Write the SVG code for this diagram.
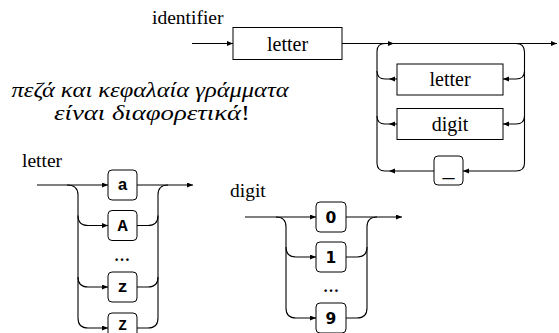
<svg xmlns="http://www.w3.org/2000/svg" width="559" height="333" viewBox="0 0 559 333">
<defs>
<marker id="ah" markerUnits="userSpaceOnUse" markerWidth="7" markerHeight="6" refX="6" refY="2.5" orient="auto">
<path d="M0,0 L6,2.5 L0,5 z" fill="#000"/>
</marker>
<style>
.ln{fill:none;stroke:#000;stroke-width:1.1}
.ar{fill:none;stroke:#000;stroke-width:1.1;marker-end:url(#ah)}
.bx{fill:#fff;stroke:#000;stroke-width:1}
</style>
</defs>

<g id="connectors">
<path class="ar" d="M192,43.5 H233"/>
<path class="ar" d="M342,43.5 H394"/>
<path class="ar" d="M394,43.5 H557"/>
<path class="ln" d="M385,43.5 Q377,43.5 377,51.5 V163 Q377,171 385,171 H389"/>
<path class="ln" d="M377,71 Q377,79 385,79 H389"/>
<path class="ln" d="M377,116 Q377,124 385,124 H389"/>
<path class="ar" d="M397,79 H389"/>
<path class="ar" d="M397,124 H389"/>
<path class="ar" d="M434,171 H389"/>
<path class="ar" d="M516,43.5 Q524.5,43.5 524.5,52 V163 Q524.5,171 516,171 H463"/>
<path class="ar" d="M524.5,71 Q524.5,79 516,79 H503"/>
<path class="ar" d="M524.5,116 Q524.5,124 516,124 H503"/>
<path class="ar" d="M37,185 H108"/>
<path class="ar" d="M67,185 Q78,185 78,195 V318 Q78,328 88,328 H108"/>
<path class="ar" d="M78,215.5 Q78,225.5 88,225.5 H108"/>
<path class="ar" d="M78,277 Q78,287 88,287 H108"/>
<path class="ar" d="M137,185 H193"/>
<path class="ln" d="M137,328 H148 Q158,328 158,318 V195 Q158,185 168,185"/>
<path class="ln" d="M137,225.5 H148 Q158,225.5 158,215.5"/>
<path class="ln" d="M137,287 H148 Q158,287 158,277"/>
<path class="ar" d="M245,217 H316"/>
<path class="ar" d="M276,217 Q286,217 286,227 V308 Q286,318 296,318 H316"/>
<path class="ar" d="M286,247 Q286,257 296,257 H316"/>
<path class="ar" d="M346,217 H402"/>
<path class="ln" d="M346,318 H357 Q367,318 367,308 V227 Q367,217 377,217"/>
<path class="ln" d="M346,257 H357 Q367,257 367,247"/>
</g>

<g id="labels" font-family="Liberation Serif, Times New Roman, serif" fill="#000">
<text x="152" y="24" font-size="19.5">identifier</text>
<text x="22" y="167" font-size="19.5">letter</text>
<text x="230" y="197" font-size="19.5">digit</text>
<text x="150" y="97" font-size="21.5" font-style="italic" text-anchor="middle" textLength="277" lengthAdjust="spacingAndGlyphs">πεζά και κεφαλαία γράμματα</text>
<text x="152" y="120" font-size="21.5" font-style="italic" text-anchor="middle" textLength="196" lengthAdjust="spacingAndGlyphs">είναι διαφορετικά<tspan font-style="normal">!</tspan></text>
<text x="122" y="261" font-size="16" font-weight="bold" text-anchor="middle">…</text>
<text x="331" y="292" font-size="16" font-weight="bold" text-anchor="middle">…</text>
</g>

<g id="node-id-letter"><rect class="bx" x="233" y="27.5" width="109" height="32"/><text x="287.5" y="50.5" font-family="Liberation Serif, serif" font-size="20" text-anchor="middle">letter</text></g>
<g id="node-loop-letter"><rect class="bx" x="397" y="64" width="106" height="31"/><text x="450" y="86" font-family="Liberation Serif, serif" font-size="20" text-anchor="middle">letter</text></g>
<g id="node-loop-digit"><rect class="bx" x="397" y="108.5" width="106" height="31"/><text x="450" y="130.5" font-family="Liberation Serif, serif" font-size="20" text-anchor="middle">digit</text></g>
<g id="node-underscore"><rect class="bx" x="434" y="156" width="29" height="29" rx="4"/><text x="448.5" y="176" font-family="Liberation Serif, serif" font-size="24" text-anchor="middle">_</text></g>

<g id="node-a"><rect class="bx" x="108" y="170" width="29" height="30" rx="4"/><text x="122.5" y="190" font-family="Liberation Mono, Courier New, monospace" font-size="17" font-weight="bold" text-anchor="middle">a</text></g>
<g id="node-A"><rect class="bx" x="108" y="210.5" width="29" height="30" rx="4"/><text x="122.5" y="231" font-family="Liberation Mono, Courier New, monospace" font-size="17" font-weight="bold" text-anchor="middle">A</text></g>
<g id="node-z"><rect class="bx" x="108" y="272" width="29" height="30" rx="4"/><text x="122.5" y="292" font-family="Liberation Mono, Courier New, monospace" font-size="17" font-weight="bold" text-anchor="middle">z</text></g>
<g id="node-Z"><rect class="bx" x="108" y="313" width="29" height="30" rx="4"/><text x="122.5" y="329.5" font-family="Liberation Mono, Courier New, monospace" font-size="14.5" font-weight="bold" text-anchor="middle">Z</text></g>

<g id="node-0"><rect class="bx" x="316" y="202" width="30" height="30" rx="4"/><text x="331" y="223" font-family="DejaVu Sans, sans-serif" font-size="15.5" font-weight="bold" text-anchor="middle">0</text></g>
<g id="node-1"><rect class="bx" x="316" y="242" width="30" height="30" rx="4"/><text x="331" y="263" font-family="DejaVu Sans, sans-serif" font-size="15.5" font-weight="bold" text-anchor="middle">1</text></g>
<g id="node-9"><rect class="bx" x="316" y="303" width="30" height="30" rx="4"/><text x="331" y="324" font-family="DejaVu Sans, sans-serif" font-size="15.5" font-weight="bold" text-anchor="middle">9</text></g>
</svg>
